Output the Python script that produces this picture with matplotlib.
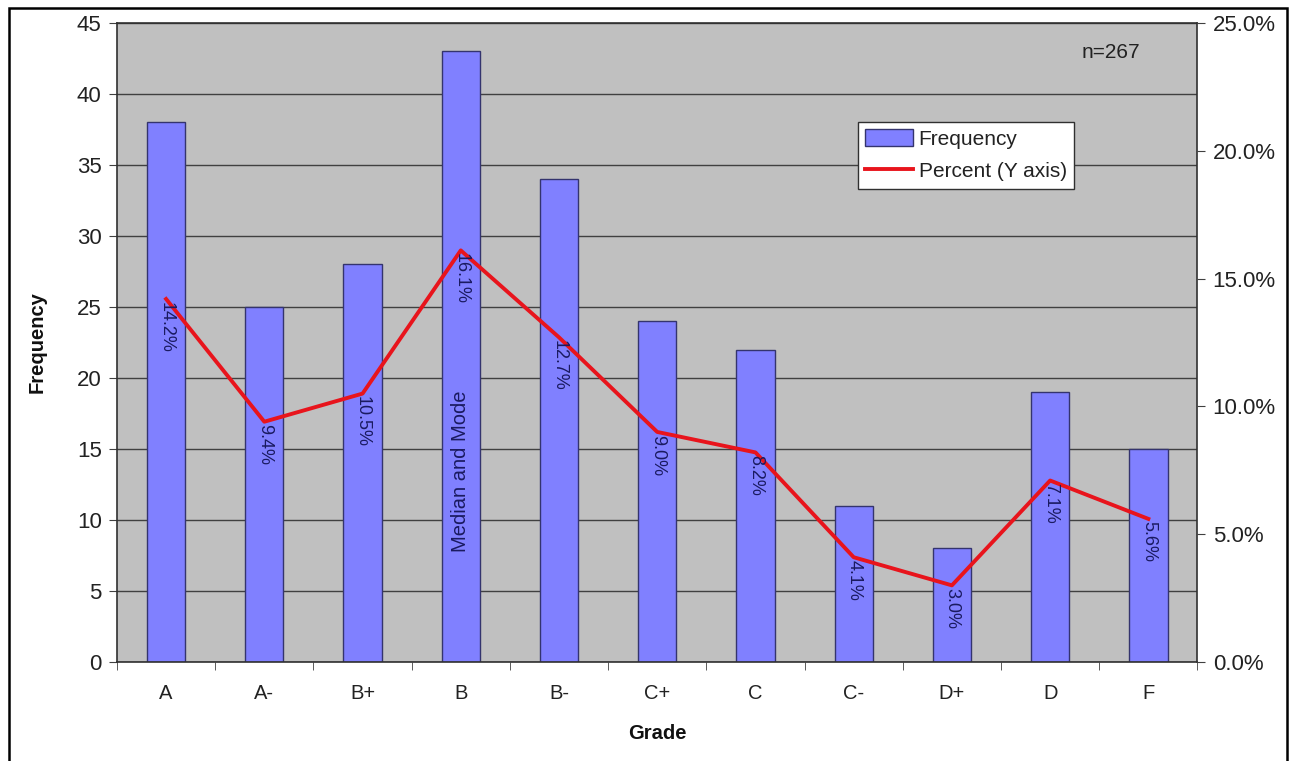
import matplotlib
matplotlib.use("Agg")
import matplotlib.pyplot as plt
from matplotlib.patches import Rectangle
from matplotlib.ticker import MultipleLocator, FuncFormatter
import numpy as np

plt.rcParams['font.family'] = ['Liberation Sans', 'DejaVu Sans']

grades = ['A', 'A-', 'B+', 'B', 'B-', 'C+', 'C', 'C-', 'D+', 'D', 'F']
frequency = [38, 25, 28, 43, 34, 24, 22, 11, 8, 19, 15]
percent = [14.2, 9.4, 10.5, 16.1, 12.7, 9.0, 8.2, 4.1, 3.0, 7.1, 5.6]
n_total = 267
mode_grade = 'B'

fig = plt.figure(figsize=(12.94, 7.61), dpi=100)
ax = fig.add_axes([0.0904, 0.130, 0.835, 0.840])
ax.set_facecolor('#c0c0c0')
ax.set_axisbelow(True)

x = np.arange(len(grades))
ax.bar(x, frequency, width=0.39, color='#8080ff', edgecolor='#34346e',
       linewidth=1.0, label='Frequency', zorder=2)

ax.set_xlim(-0.5, len(grades) - 0.5)
ax.set_ylim(0, 45)
ax.yaxis.set_major_locator(MultipleLocator(5))
ax.grid(axis='y', color='#404040', linewidth=1.0, zorder=0)
ax.set_xticks(x)
ax.set_xticklabels(grades)
ax.set_xticks(np.arange(-0.5, len(grades)), minor=True)
ax.tick_params(axis='x', which='major', length=0, pad=16, labelsize=14.5, labelcolor='#222222')
ax.tick_params(axis='x', which='minor', length=6, direction='out', color='#404040')
ax.tick_params(axis='y', length=6, direction='out', labelsize=16, pad=5,
               color='#404040', labelcolor='#222222')
for s in ax.spines.values():
    s.set_color('#303030')
    s.set_linewidth(1.2)

ax.set_ylabel('Frequency', fontsize=14.5, fontweight='bold', labelpad=22, color='#111111')
ax.set_xlabel('Grade', fontsize=14.5, fontweight='bold', labelpad=15, color='#111111')

# secondary axis for the percentage line
ax2 = ax.twinx()
ax2.set_ylim(0, 25)
ax2.yaxis.set_major_locator(MultipleLocator(5))
ax2.yaxis.set_major_formatter(FuncFormatter(lambda v, p: f'{v:.1f}%'))
ax2.tick_params(axis='y', length=6, direction='out', labelsize=16, pad=5,
                color='#404040', labelcolor='#222222')
for s in ax2.spines.values():
    s.set_visible(False)
line, = ax2.plot(x, percent, color='#e8141c', linewidth=2.8, label='Percent (Y axis)', zorder=3)

for xi, p in zip(x, percent):
    ax2.text(xi, p - 0.1, f'{p:.1f}%', rotation=270, ha='center', va='top',
             fontsize=13, color='#1a1a60', zorder=4)

ax.text(grades.index(mode_grade), 13.4, 'Median and Mode', rotation=90,
        ha='center', va='center', fontsize=14.5, color='#1a1a60', zorder=4)

ax.text(0.947, 0.968, f'n={n_total}', transform=ax.transAxes, ha='right', va='top',
        fontsize=15, color='#222222')

bars = ax.containers[0]
leg = ax2.legend([bars, line], ['Frequency', 'Percent (Y axis)'],
                 loc='upper left', bbox_to_anchor=(0.686, 0.845), fontsize=15,
                 fancybox=False, framealpha=1, edgecolor='#303030',
                 handlelength=2.3, handleheight=0.9, handletextpad=0.25,
                 borderpad=0.35, labelspacing=0.6, borderaxespad=0)
leg.get_frame().set_linewidth(1.0)
for t in leg.get_texts():
    t.set_color('#222222')

fig.patches.append(Rectangle((9 / 1294, -0.05), 1278 / 1294, 1.05 - 8 / 761,
                             transform=fig.transFigure, fill=False,
                             edgecolor='black', linewidth=1.8))

fig.savefig('out.png', dpi=100)
